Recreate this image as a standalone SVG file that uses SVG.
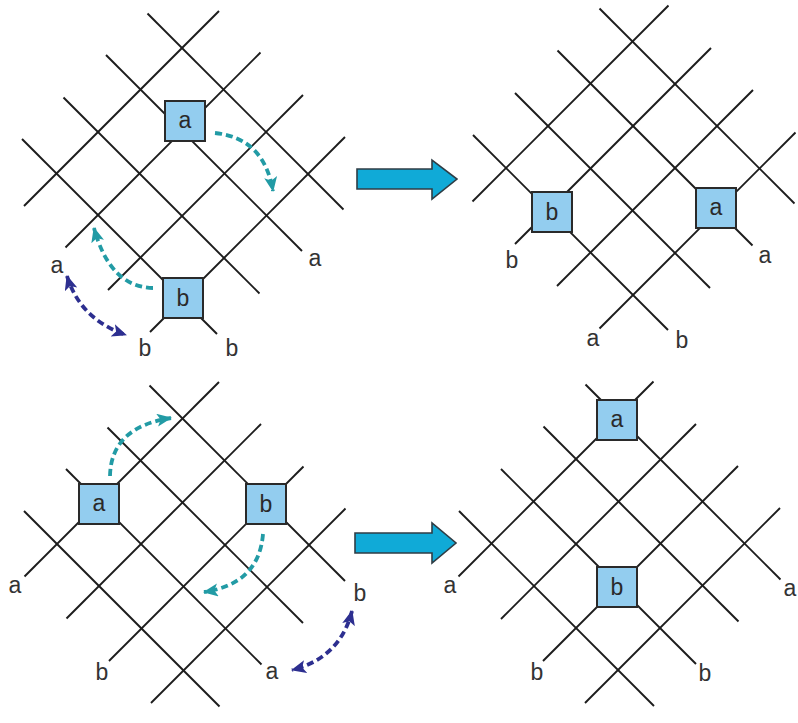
<svg xmlns="http://www.w3.org/2000/svg" width="798" height="723" viewBox="0 0 798 723">
  <style>
    .grid line { stroke: #1c1c1c; stroke-width: 1.9; stroke-linecap: butt; }
    .box rect { fill: #93cdef; stroke: #2a2a2a; stroke-width: 2; }
    .box text { font-family: "Liberation Sans", Arial, sans-serif; font-size: 23px; fill: #2a2a2a; text-anchor: middle; }
    .lbl { font-family: "Liberation Sans", Arial, sans-serif; font-size: 23px; fill: #333; text-anchor: middle; }
    .swap { fill: none; stroke-width: 3.8; stroke-dasharray: 7 4; }
    .teal { stroke: #229ba5; }
    .navy { stroke: #2d2f90; }
    .bigarrow { fill: #10aad7; stroke: #2f3d45; stroke-width: 1.6; stroke-linejoin: miter; }
  </style>
  <defs>
    <marker id="headTeal" markerUnits="userSpaceOnUse" markerWidth="16" markerHeight="14" refX="14" refY="6.5" orient="auto-start-reverse">
      <path d="M0,0 L15,6.5 L0,13 L3.5,6.5 z" fill="#229ba5"/>
    </marker>
    <marker id="headNavy" markerUnits="userSpaceOnUse" markerWidth="16" markerHeight="14" refX="14" refY="6.5" orient="auto-start-reverse">
      <path d="M0,0 L15,6.5 L0,13 L3.5,6.5 z" fill="#2d2f90"/>
    </marker>
  </defs>
  <rect width="798" height="723" fill="#ffffff"/>

  <!-- lattice, upper left -->
  <g id="grid-1" class="grid">
    <line x1="147.5" y1="13.5" x2="343.5" y2="209.5"/>
    <line x1="106" y1="55" x2="302" y2="251"/>
    <line x1="63.5" y1="97.5" x2="259.5" y2="293.5"/>
    <line x1="22" y1="139" x2="217" y2="334"/>
    <line x1="219" y1="11" x2="24" y2="206"/>
    <line x1="260.5" y1="52.5" x2="65.5" y2="247.5"/>
    <line x1="303" y1="95" x2="108" y2="290"/>
    <line x1="345" y1="137" x2="150" y2="332"/>
  </g>

  <!-- lattice, upper right -->
  <g id="grid-2" class="grid">
    <line x1="599.5" y1="8.5" x2="794.5" y2="203.5"/>
    <line x1="557.5" y1="50.5" x2="752.5" y2="245.5"/>
    <line x1="515" y1="93" x2="710" y2="288"/>
    <line x1="473" y1="135" x2="668" y2="330"/>
    <line x1="668.5" y1="5.5" x2="472.5" y2="201.5"/>
    <line x1="711" y1="48" x2="515" y2="244"/>
    <line x1="753" y1="90" x2="557" y2="286"/>
    <line x1="795.5" y1="132.5" x2="599.5" y2="328.5"/>
  </g>

  <!-- lattice, lower left -->
  <g id="grid-3" class="grid">
    <line x1="149.5" y1="385.5" x2="345" y2="581"/>
    <line x1="107.5" y1="427.5" x2="303" y2="623"/>
    <line x1="66" y1="469" x2="261.5" y2="664.5"/>
    <line x1="24" y1="511" x2="219.5" y2="706.5"/>
    <line x1="219" y1="382" x2="24.5" y2="576.5"/>
    <line x1="261" y1="424" x2="66.5" y2="618.5"/>
    <line x1="303.5" y1="466.5" x2="109" y2="661"/>
    <line x1="345.5" y1="508.5" x2="151" y2="703"/>
  </g>

  <!-- lattice, lower right -->
  <g id="grid-4" class="grid">
    <line x1="585.5" y1="384.5" x2="780.5" y2="579.5"/>
    <line x1="543.5" y1="426.5" x2="738.5" y2="621.5"/>
    <line x1="501" y1="469" x2="696" y2="664"/>
    <line x1="459" y1="511" x2="654" y2="706"/>
    <line x1="653.5" y1="381.5" x2="458.5" y2="576.5"/>
    <line x1="696" y1="424" x2="501" y2="619"/>
    <line x1="738" y1="466" x2="543" y2="661"/>
    <line x1="780" y1="508" x2="585" y2="703"/>
  </g>

  <!-- vertex nodes -->
  <g id="p1-a" class="box"><rect x="165" y="101" width="40" height="40"/><text x="185" y="128">a</text></g>
  <g id="p1-b" class="box"><rect x="163" y="278" width="40" height="40"/><text x="183" y="306">b</text></g>
  <g id="p2-b" class="box"><rect x="532" y="192" width="40" height="40"/><text x="552" y="220">b</text></g>
  <g id="p2-a" class="box"><rect x="696" y="188" width="40" height="40"/><text x="716" y="215">a</text></g>
  <g id="p3-a" class="box"><rect x="79" y="484" width="40" height="40"/><text x="99" y="511">a</text></g>
  <g id="p3-b" class="box"><rect x="246" y="484" width="40" height="40"/><text x="266" y="512">b</text></g>
  <g id="p4-a" class="box"><rect x="597" y="400" width="40" height="40"/><text x="617" y="427">a</text></g>
  <g id="p4-b" class="box"><rect x="597" y="567" width="40" height="40"/><text x="617" y="595">b</text></g>

  <!-- end labels -->
  <g id="labels">
    <text class="lbl" x="315" y="266">a</text>
    <text class="lbl" x="57" y="273">a</text>
    <text class="lbl" x="145" y="356">b</text>
    <text class="lbl" x="232" y="356">b</text>

    <text class="lbl" x="512" y="268">b</text>
    <text class="lbl" x="765" y="263">a</text>
    <text class="lbl" x="593" y="346">a</text>
    <text class="lbl" x="682" y="348">b</text>

    <text class="lbl" x="15" y="593">a</text>
    <text class="lbl" x="360" y="601">b</text>
    <text class="lbl" x="102" y="680">b</text>
    <text class="lbl" x="272" y="679">a</text>

    <text class="lbl" x="450" y="593">a</text>
    <text class="lbl" x="537" y="680">b</text>
    <text class="lbl" x="705" y="681">b</text>
    <text class="lbl" x="790" y="596">a</text>
  </g>

  <!-- connectors: swap moves and transition arrows -->
  <g id="connectors">
    <path class="swap teal" d="M215,133 Q264,138 273,191" marker-end="url(#headTeal)"/>
    <path class="swap teal" d="M153,288 Q110,287 94,228" marker-end="url(#headTeal)"/>
    <path class="swap navy" d="M67,276 Q80,319 126,335" marker-start="url(#headNavy)" marker-end="url(#headNavy)"/>

    <path class="swap teal" d="M110,476 Q111,427 171,418" marker-end="url(#headTeal)"/>
    <path class="swap teal" d="M263,534 Q259,584 204,592" marker-end="url(#headTeal)"/>
    <path class="swap navy" d="M352,611 Q340,658 292,670" marker-start="url(#headNavy)" marker-end="url(#headNavy)"/>

    <polygon class="bigarrow" points="357,169 432,169 432,160 457,179 432,199 432,189 357,189"/>
    <polygon class="bigarrow" points="355,533 432,533 432,523 456,543 432,563 432,553 355,553"/>
  </g>
</svg>
